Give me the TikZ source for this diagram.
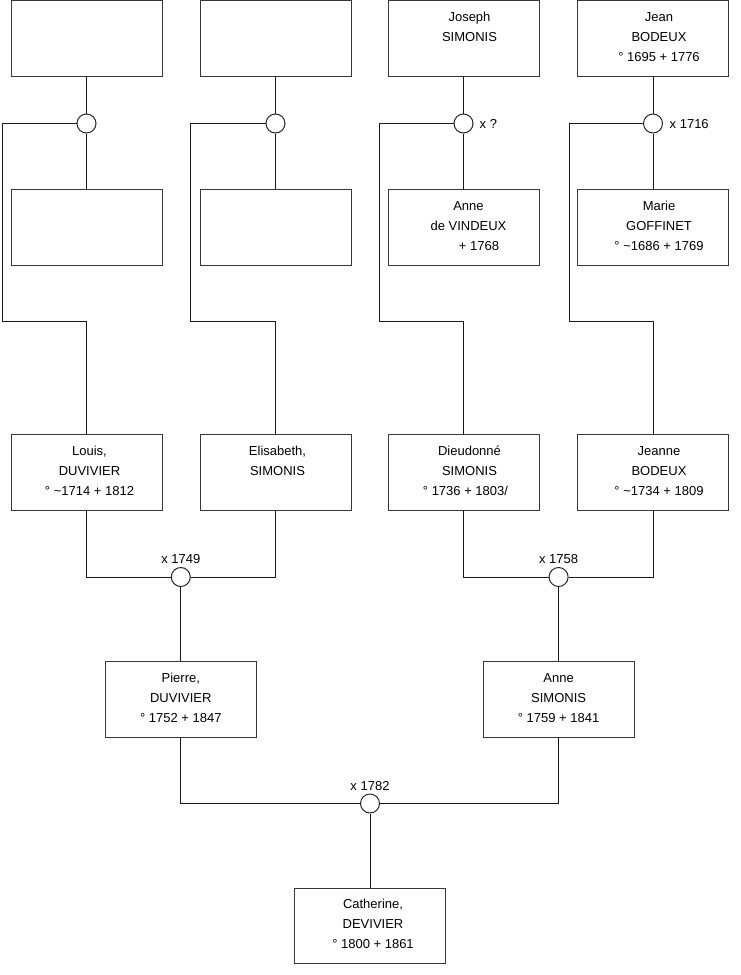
\documentclass[tikz,border=0pt]{standalone}
\usepackage{fontspec}
\setmainfont{Liberation Sans}
\newcommand{\ptext}[2][0pt]{\parbox[c][75.5pt][t]{151pt}{\centering\leftskip=#1 plus 1fil\relax\fontsize{13}{20}\selectfont\rule{0pt}{20.5pt}#2\par}}
\tikzset{
  person/.style={draw=black!78, line width=1pt, fill=white, inner sep=0pt, outer sep=0pt,
                 minimum width=151pt, minimum height=75.5pt},
  union/.style={circle, draw=black!85, line width=1pt, fill=white, minimum size=19pt, inner sep=0pt},
  link/.style={draw=black!90, line width=1pt},
  lbl/.style={inner sep=0pt, font=\fontsize{13}{15}\selectfont}
}
\begin{document}
\begin{tikzpicture}[x=1pt,y=-1pt]
\useasboundingbox (0,0) rectangle (740,975);
% row 1
\node[person] (a1) at (86.5,38.5) {};
\node[person] (a2) at (275.5,38.5) {};
\node[person] (a3) at (463.5,38.5) {\ptext[12pt]{Joseph\\SIMONIS}};
\node[person] (a4) at (653,38.5) {\ptext[12pt]{Jean\\BODEUX\\° 1695 + 1776}};
% unions row 1
\node[union] (u1) at (86.5,123.5) {};
\node[union] (u2) at (275.5,123.5) {};
\node[union] (u3) at (463.5,123.5) {};
\node[union] (u4) at (653,123.5) {};
\node[lbl, anchor=base west] (t3) at (479.5,128.3) {x ?};
\node[lbl, anchor=base west] (t4) at (669.5,128.3) {x 1716};
% row 2
\node[person] (b1) at (86.5,227.5) {};
\node[person] (b2) at (275.5,227.5) {};
\node[person] (b3) at (463.5,227.5) {\ptext[10pt]{Anne\\de VINDEUX\\\hspace*{21pt}+ 1768}};
\node[person] (b4) at (653,227.5) {\ptext[12pt]{Marie\\GOFFINET\\° \textasciitilde1686 + 1769}};
% row 3
\node[person] (l1) at (86.5,472.5) {\ptext[6pt]{Louis,\\DUVIVIER\\° \textasciitilde1714 + 1812}};
\node[person] (l2) at (275.5,472.5) {\ptext[4pt]{Elisabeth,\\SIMONIS}};
\node[person] (l3) at (463.5,472.5) {\ptext[12pt]{Dieudonné\\SIMONIS\\\hspace*{-8pt}° 1736 + 1803/}};
\node[person] (l4) at (653,472.5) {\ptext[12pt]{Jeanne\\BODEUX\\° \textasciitilde1734 + 1809}};
% unions row 3
\node[union] (m1) at (180.8,577) {};
\node[union] (m2) at (558.6,577) {};
\node[lbl, anchor=base] (t5) at (180.8,563.4) {x 1749};
\node[lbl, anchor=base] (t6) at (558.6,563.4) {x 1758};
% row 4
\node[person] (p1) at (180.8,699.5) {\ptext{Pierre,\\DUVIVIER\\° 1752 + 1847}};
\node[person] (p2) at (558.6,699.5) {\ptext{Anne\\SIMONIS\\° 1759 + 1841}};
% final union
\node[union] (r) at (370,803.5) {};
\node[lbl, anchor=base] (t7) at (370,790) {x 1782};
% row 5
\node[person] (q) at (370,926) {\ptext[6pt]{Catherine,\\DEVIVIER\\° 1800 + 1861}};
% corner coordinates
\coordinate (k1a) at (2,123.5);   \coordinate (k1b) at (2,321.5);
\coordinate (k2a) at (190.5,123.5); \coordinate (k2b) at (190.5,321.5);
\coordinate (k3a) at (379,123.5); \coordinate (k3b) at (379,321.5);
\coordinate (k4a) at (569,123.5); \coordinate (k4b) at (569,321.5);
% connectors top
\foreach \i in {1,2,3,4}{
  \draw[link] (a\i) -- (u\i);
  \draw[link] (u\i) -- (b\i);
  \draw[link] (u\i) -- (k\i a) -- (k\i b) -| (l\i);
}
% connectors middle
\draw[link] (l1) |- (m1);
\draw[link] (m1) -| (l2);
\draw[link] (m1) -- (p1);
\draw[link] (l3) |- (m2);
\draw[link] (m2) -| (l4);
\draw[link] (m2) -- (p2);
% connectors bottom
\draw[link] (p1) |- (r);
\draw[link] (r) -| (p2);
\draw[link] (r) -- (q);
\end{tikzpicture}
\end{document}
